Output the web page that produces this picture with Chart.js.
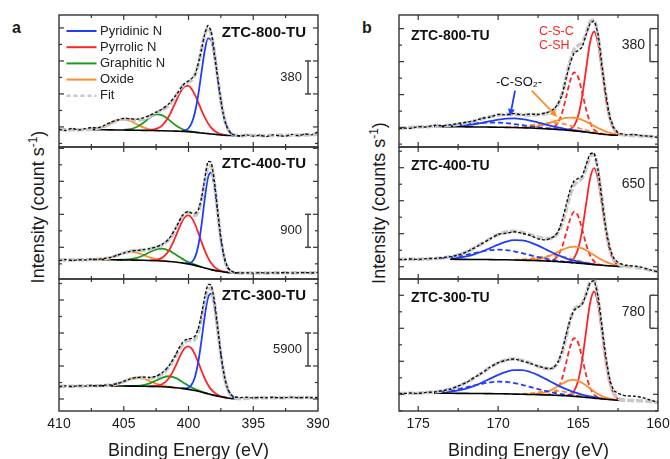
<!DOCTYPE html>
<html>
<head>
<meta charset="utf-8">
<script src="https://cdn.jsdelivr.net/npm/chart.js@4.4.1/dist/chart.umd.min.js"></script>
<style>
html,body{margin:0;padding:0;background:#fff;}
body{width:670px;height:459px;overflow:hidden;position:relative;font-family:"Liberation Sans",Arial,sans-serif;color:#1a1a1a;}
.cw{position:absolute;}
.ytitle{position:absolute;white-space:nowrap;font-size:18px;line-height:20px;transform:translate(-50%,-50%) rotate(-90deg);}
.ytitle sup{font-size:12px;vertical-align:7px;line-height:0;}
.plabel{position:absolute;font-weight:bold;font-size:16px;line-height:16px;}
</style>
</head>
<body>
<div class="plabel" style="left:12px;top:20px">a</div>
<div class="plabel" style="left:362px;top:20px">b</div>
<div class="ytitle" style="left:38px;top:207px">Intensity (count s<sup>-1</sup>)</div>
<div class="ytitle" style="left:379px;top:203px">Intensity (counts s<sup>-1</sup>)</div>
<div class="cw" style="left:55px;top:11px;width:267px;height:140px"><canvas id="a1"></canvas></div>
<div class="cw" style="left:55px;top:143px;width:267px;height:140px"><canvas id="a2"></canvas></div>
<div class="cw" style="left:39px;top:275px;width:299px;height:187px"><canvas id="a3"></canvas></div>
<div class="cw" style="left:395px;top:11px;width:267px;height:140px"><canvas id="b1"></canvas></div>
<div class="cw" style="left:395px;top:143px;width:267px;height:140px"><canvas id="b2"></canvas></div>
<div class="cw" style="left:379px;top:275px;width:299px;height:187px"><canvas id="b3"></canvas></div>
<script>
// ---------- energy grids (eV) ----------
const energyA = [410,409.5,409,408.5,408,407.5,407,406.5,406,405.5,405,404.5,404,403.5,403,402.5,402,401.5,401,400.75,400.5,400.25,400,399.75,399.5,399.25,399,398.75,398.5,398.25,398,397.75,397.5,397.25,397,396.75,396.5,396.25,396,395.5,395,394.5,394,393.5,393,392.5,392,391.5,391,390.5,390];
const energyB = [176.2,176,175.5,175,174.5,174,173.5,173,172.5,172,171.5,171,170.5,170,169.5,169,168.5,168,167.5,167,166.75,166.5,166.25,166,165.75,165.5,165.25,165,164.75,164.5,164.25,164,163.75,163.5,163.25,163,162.75,162.5,162.25,162,161.5,161,160.5,160];

// ---------- N 1s, ZTC-800-TU (counts s-1) ----------
const a1Data = [205,190,215,195,210,225,220,250,285,310,330,325,320,335,365,400,440,500,590,640,700,740,760,790,830,960,1120,1300,1400,1330,1080,800,540,330,220,160,140,130,125,140,125,135,120,140,130,125,145,130,150,140,175];
const a1Fit = [200,200,200,200,201,204,215,235,271,307,322,318,310,320,353,398,431,484,583,643,694,730,751,774,833,948,1120,1290,1371,1301,1088,805,537,340,222,164,141,133,130,132,133,133,133,133,134,134,135,136,138,142,150];
const a1Background = [200,200,198,197,196,195,194,193,192,190,189,187,185,183,182,180,178,176,173,170,166,162,158,154,150,146,142,138,135,133,132,131,130,130]; // from 407.5
const a1Pyridinic = [184,191,216,277,401,599,857,1105,1250,1228,1047,783,526,335,220,164,141,132]; // from 400.5
const a1Pyrrolic = [194,208,253,357,515,597,663,701,703,666,600,515,425,343,275,223,187,164,149,140,134]; // from 403
const a1Graphitic = [198,206,231,277,336,375,365,312,251,227,207,194,184,177,172,166]; // from 405
const a1Oxide = [204,215,235,271,306,319,300,262,226,203,193]; // from 407.5

// ---------- N 1s, ZTC-400-TU ----------
const a2Data = [500,530,505,525,520,540,530,560,590,650,705,760,775,800,830,875,950,1100,1380,1550,1720,1810,1840,1800,1790,1880,2200,2720,3200,3180,2650,1870,1120,610,340,225,185,172,165,170,160,175,160,170,165,175,160,170,175,165,180];
const a2Fit = [515,518,520,523,527,532,536,552,588,647,711,758,779,790,819,866,937,1081,1358,1529,1684,1784,1806,1766,1735,1829,2152,2648,3064,3084,2607,1835,1095,588,323,213,177,167,164,165,166,166,167,167,168,168,169,170,171,172,174];
const a2Background = [530,528,526,524,522,520,517,514,510,505,498,490,478,462,452,440,426,410,392,372,350,326,302,278,256,236,218,203,190,180,173,168,165,164]; // from 407.5
const a2Pyridinic = [430,427,460,588,901,1457,2170,2759,2905,2510,1787,1073,579,319,213,177,167]; // from 400.25
const a2Pyrrolic = [509,520,587,783,1152,1370,1568,1700,1737,1666,1500,1268,1016,780,583,435,333,266,225,199,184]; // from 403
const a2Graphitic = [524,527,540,576,642,730,805,826,772,668,611,556,506,462,424,391,360,331]; // from 405.5
const a2Oxide = [532,536,552,588,645,704,735,717,658,590,537,504,482]; // from 407.5

// ---------- N 1s, ZTC-300-TU ----------
const a3Data = [4350,4500,4380,4520,4450,4560,4480,4620,4650,4900,5300,5750,6000,6050,6000,6200,6900,8100,10000,11200,12100,12700,12900,13000,13400,14700,17200,20300,22600,22500,19700,15000,10200,6500,4200,3000,2550,2450,2400,2450,2350,2420,2380,2450,2350,2400,2450,2350,2420,2380,2400];
const a3Fit = [4400,4420,4440,4460,4490,4520,4520,4543,4636,4868,5255,5688,5967,5987,5914,6087,6692,7902,9793,10835,11752,12345,12543,12555,12844,14066,16487,19545,21842,21905,19245,14781,10080,6380,4075,2890,2400,2230,2210,2280,2320,2350,2370,2380,2390,2390,2400,2400,2400,2400,2400];
const a3Background = [4520,4510,4500,4490,4480,4470,4455,4440,4420,4400,4370,4330,4270,4170,4110,4040,3960,3870,3770,3650,3520,3380,3230,3080,2930,2790,2660,2540,2430,2330,2250,2190,2160,2150]; // from 407.5
const a3Pyridinic = [4050,4050,4200,4750,6100,8690,12540,16890,20200,20970,18760,14550,9980,6340,4060,2890,2390,2210,2150]; // from 400.5
const a3Pyrrolic = [4415,4470,4815,5890,8030,9330,10520,11340,11570,11150,10130,8740,7240,5840,4700,3855,3275,2890,2640,2470,2345]; // from 403
const a3Graphitic = [4475,4470,4505,4635,4950,5460,5985,6210,5915,5610,5250,4873,4515,4198,3915,3675,3464,3275,3100]; // from 405
const a3Oxide = [4520,4520,4543,4636,4865,5250,5673,5902,5772,5362,4897,4552,4342,4188]; // from 407.5

// ---------- S 2p, ZTC-800-TU ----------
const b1Data = [210,220,215,235,230,250,245,255,270,285,300,330,345,375,370,385,370,380,375,395,410,440,500,600,790,960,1080,1110,1150,1290,1420,1450,1300,930,590,340,220,165,150,140,145,130,125,110];
const b1Fit = [215,218,224,230,234,240,243,250,262,278,300,325,349,368,377,378,372,367,371,386,402,431,493,613,794,988,1121,1167,1199,1301,1440,1465,1275,927,577,334,210,159,142,136,132,128,122,115];
const b1Background = [236,235,234,233,232,231,230,229,228,226,224,221,218,214,210,207,204,201,198,194,190,186,182,177,172,166,160,154,149,144,140,137,135]; // from 174
const b1SO2Main = [237,239,243,250,262,278,297,315,327,330,322,305,282,258,246,235,225,216,207,200,193,187,180,174]; // from 173.5
const b1SO2Split = [239,241,245,252,260,269,277,281,281,274,264,251,239,227,217,211,208,204,200]; // from 174
const b1OxMain = [225,229,241,264,279,295,311,325,335,339,337,328,313,292,268,243,219,197,178,163,152,144,138,135]; // from 168.5
const b1OxSplit = [228,231,237,248,263,276,279,279,275,269,259,246,233,220,206,193,181,170,160,153,146,140]; // from 169.5
const b1CSCMain = [196,205,244,353,574,895,1204,1330,1192,872,541,311,195,150,137]; // from 165.75
const b1CSCSplit = [212,214,230,282,395,571,758,858,807,634,435,285,202,166,152,144]; // from 167

// ---------- S 2p, ZTC-400-TU ----------
const b2Data = [390,380,395,385,400,405,420,440,470,530,610,700,790,880,900,930,900,860,790,770,800,840,930,1150,1450,1750,1930,1980,2020,2250,2460,2480,2150,1550,980,600,400,330,290,270,255,230,180,140];
const b2Fit = [385,387,388,390,396,401,414,437,476,532,609,699,793,874,926,942,919,872,824,796,799,826,912,1086,1353,1647,1849,1924,1990,2175,2409,2450,2133,1559,980,582,378,300,265,250,235,210,175,145];
const b2Background = [388,387,386,385,384,382,380,378,375,371,366,361,355,351,347,342,337,331,325,319,312,305,298,291,284,277,270,264,258,253,248,245]; // from 173
const b2SO2Main = [403,418,444,485,541,608,677,735,766,762,723,658,581,542,504,469,437,408,383,362,343,327,313,301,290]; // from 173
const b2SO2Split = [407,422,445,474,509,542,567,577,569,545,509,468,430,398,384,371,360,349,340,331,323,315]; // from 173.5
const b2OxMain = [374,377,394,433,462,497,536,574,606,628,637,628,604,566,519,469,419,374,336,305,283,266,255,248]; // from 168.5
const b2OxSplit = [381,387,402,425,447,454,456,452,442,426,407,386,364,343,325,309,295,284,274]; // from 169
const b2CSCMain = [335,350,414,589,949,1472,1976,2184,1962,1444,908,535,348,273,250]; // from 165.75
const b2CSCSplit = [357,361,386,463,631,894,1173,1322,1245,987,691,468,348,295,275,266]; // from 167

// ---------- S 2p, ZTC-300-TU ----------
const b3Data = [420,410,425,415,440,450,480,515,590,670,790,900,1040,1140,1200,1230,1180,1130,1060,1010,1000,1040,1160,1420,1800,2150,2380,2450,2520,2750,3020,3080,2700,1980,1250,720,480,420,380,360,350,320,260,200];
const b3Fit = [415,416,418,420,436,451,476,520,584,672,782,906,1032,1137,1207,1227,1197,1130,1056,1002,1001,1033,1144,1378,1741,2136,2398,2482,2543,2760,3052,3098,2677,1927,1178,661,398,300,265,255,248,240,225,205];
const b3Background = [420,419,418,417,416,414,412,410,407,404,400,396,391,386,380,377,373,369,364,359,353,346,339,331,322,313,304,295,286,277,269,261,254,248]; // from 174
const b3SO2Main = [429,438,456,486,531,594,674,765,852,924,964,964,922,848,753,704,653,605,559,518,480,445,416,389,365,344,326,310,296]; // from 174
const b3SO2Split = [442,457,482,515,557,602,644,677,692,687,661,620,569,518,471,450,431,414,398,385,372,360,349]; // from 174
const b3OxMain = [396,407,447,484,532,588,645,695,727,734,713,667,603,532,463,402,353,316,290,272,259]; // from 168
const b3OxSplit = [405,416,441,470,480,482,478,464,445,422,398,375,354,336,321,308]; // from 168.5
const b3CSCMain = [365,386,472,707,1185,1879,2548,2824,2530,1843,1131,637,387,287,254]; // from 165.75
const b3CSCSplit = [382,391,427,535,767,1130,1514,1719,1617,1265,860,556,391,320,293,277]; // from 167

// ---------- labels ----------
const sampleNames = ['ZTC-800-TU','ZTC-400-TU','ZTC-300-TU'];
const scaleBarsA = [380, 900, 5900];
const scaleBarsB = [380, 650, 780];
const legendNames = ['Pyridinic N','Pyrrolic N','Graphitic N','Oxide','Fit'];

const BLUE = '#1f3dff', RED = '#ff2424', GREEN = '#1c9c1c', ORANGE = '#ff8d2e';
const FONT = '"Liberation Sans", Arial, sans-serif';
Chart.defaults.font.family = FONT;
Chart.defaults.color = '#1a1a1a';

function pts(grid, from, vals) {
  const i0 = grid.indexOf(from);
  return vals.map((v, i) => ({ x: grid[i0 + i], y: v }));
}
function lineDs(label, points, color, width, dash, mode) {
  return { label, data: points, borderColor: color, backgroundColor: color, borderWidth: width,
    borderDash: dash || [], pointRadius: 0, fill: false,
    cubicInterpolationMode: mode || 'monotone', tension: mode === 'default' ? 0.2 : 0.4 };
}

const decoPlugin = {
  id: 'deco',
  afterDraw(chart, args, o) {
    const { ctx, chartArea: ca } = chart;
    const x = chart.scales.x, y = chart.scales.y;
    const seg = (x1, y1, x2, y2) => { ctx.beginPath(); ctx.moveTo(x1, y1); ctx.lineTo(x2, y2); ctx.stroke(); };
    ctx.save();
    ctx.strokeStyle = '#333'; ctx.lineWidth = 1.2; ctx.setLineDash([]);
    for (let v = Math.ceil(x.min / 2.5) * 2.5; v <= x.max + 1e-6; v += 2.5) {
      const px = x.getPixelForValue(v);
      if (px <= ca.left + 1 || px >= ca.right - 1) continue;
      const L = Math.abs(v % 5) < 1e-6 ? 5 : 3;
      seg(px, ca.bottom, px, ca.bottom - L); seg(px, ca.top, px, ca.top + L);
    }
    for (let k = -12; k <= 12; k++) {
      const v = o.tick0 + k * o.tickStep / 2;
      if (v <= y.min || v >= y.max) continue;
      const py = y.getPixelForValue(v);
      const L = (k % 2 === 0) ? 5 : 3;
      seg(ca.left, py, ca.left + L, py); seg(ca.right, py, ca.right - L, py);
    }
    ctx.lineWidth = 1.4;
    ctx.strokeRect(ca.left, ca.top, ca.right - ca.left, ca.bottom - ca.top);
    ctx.fillStyle = '#111'; ctx.font = o.nameFont; ctx.textBaseline = 'middle';
    if (o.nameSide === 'right') { ctx.textAlign = 'right'; ctx.fillText(o.name, ca.right - o.nameDx, ca.top + o.nameDy); }
    else { ctx.textAlign = 'left'; ctx.fillText(o.name, ca.left + o.nameDx, ca.top + o.nameDy); }
    const bx = x.getPixelForValue(o.barE);
    const by0 = y.getPixelForValue(o.barY0), by1 = y.getPixelForValue(o.barY0 + o.barB);
    ctx.strokeStyle = '#444'; ctx.lineWidth = 1.5;
    seg(bx, by0, bx, by1);
    if (o.barStyle === 'I') { seg(bx - 3, by0, bx + 3, by0); seg(bx - 3, by1, bx + 3, by1); }
    else { seg(bx, by0, bx + 4, by0); seg(bx, by1, bx + 4, by1); }
    ctx.font = o.barFont; ctx.textAlign = 'right'; ctx.fillStyle = '#222';
    ctx.fillText(String(o.barB), bx - o.barGap, (by0 + by1) / 2);
    if (o.legend) {
      o.legend.forEach((it, i) => {
        const ds = chart.data.datasets.find(d => d.label === it.label);
        const cy = ca.top + 16 + i * 16.2;
        ctx.strokeStyle = ds.borderColor; ctx.lineWidth = it.width || 2; ctx.setLineDash(it.dash || []);
        seg(ca.left + 7.5, cy, ca.left + 37.5, cy);
        ctx.setLineDash([]);
        ctx.fillStyle = '#222'; ctx.font = '13px ' + FONT; ctx.textAlign = 'left';
        ctx.fillText(it.label, ca.left + 41, cy);
      });
    }
    (o.notes || []).forEach(n => {
      if (n.type === 'text') {
        ctx.fillStyle = n.color; ctx.font = n.font; ctx.textAlign = n.align; ctx.textBaseline = 'middle';
        ctx.fillText(n.text, x.getPixelForValue(n.e), y.getPixelForValue(n.v));
      } else {
        const x1 = x.getPixelForValue(n.e1), y1 = y.getPixelForValue(n.v1);
        const x2 = x.getPixelForValue(n.e2), y2 = y.getPixelForValue(n.v2);
        const ang = Math.atan2(y2 - y1, x2 - x1), hl = 7, hw = 3.5;
        const hx = x2 - hl * Math.cos(ang), hy = y2 - hl * Math.sin(ang);
        ctx.strokeStyle = n.color; ctx.fillStyle = n.color; ctx.lineWidth = 1.8;
        seg(x1, y1, hx, hy);
        ctx.beginPath(); ctx.moveTo(x2, y2);
        ctx.lineTo(hx + hw * Math.sin(ang), hy - hw * Math.cos(ang));
        ctx.lineTo(hx - hw * Math.sin(ang), hy + hw * Math.cos(ang));
        ctx.closePath(); ctx.fill();
      }
    });
    ctx.restore();
  }
};

function makePanel(id, p) {
  const datasets = [
    lineDs('Data', pts(p.grid, p.grid[0], p.data), '#111', 1.4, [3, 2], 'default'),
    lineDs('Fit', pts(p.grid, p.grid[0], p.fit), '#c8c8c8', 3.5, [7, 2]),
    lineDs('Background', pts(p.grid, p.bgFrom, p.bg), '#000', 1.6),
    ...p.comps.map(c => lineDs(c.label, pts(p.grid, c.from, c.vals), c.color, 1.8, c.dash))
  ];
  const bottom = !!p.xTitle;
  new Chart(document.getElementById(id), {
    type: 'line',
    data: { datasets },
    options: {
      responsive: true, maintainAspectRatio: false, animation: false, devicePixelRatio: 1, events: [],
      layout: { padding: bottom ? { left: 20, right: 20, top: 4, bottom: 0 } : 4 },
      plugins: { legend: { display: false }, tooltip: { enabled: false }, deco: p.deco },
      scales: {
        x: { type: 'linear', reverse: true, min: p.xMin, max: p.xMax, display: bottom,
          grid: { display: false, drawTicks: false }, border: { display: false },
          ticks: { stepSize: 5, includeBounds: false, autoSkip: false, maxRotation: 0, padding: 5, font: { size: 14 }, color: '#1a1a1a' },
          title: { display: bottom, text: p.xTitle || '', font: { size: 18 }, color: '#1a1a1a', padding: { top: 0, bottom: 0 } },
          afterFit: s => { if (bottom) s.height = 51; } },
        y: { type: 'linear', min: 0, max: p.yMax, display: false }
      }
    },
    plugins: [decoPlugin]
  });
}

function nComps(pyr, pyrr, gra, oxi, f) {
  return [
    { label: 'Pyridinic N', from: f[0], vals: pyr, color: BLUE },
    { label: 'Pyrrolic N', from: f[1], vals: pyrr, color: RED },
    { label: 'Graphitic N', from: f[2], vals: gra, color: GREEN },
    { label: 'Oxide', from: f[3], vals: oxi, color: ORANGE }
  ];
}
function sComps(s1, s2, o1, o2, c1, c2, f) {
  return [
    { label: 'C-SO2 2p3/2', from: f[0], vals: s1, color: BLUE },
    { label: 'C-SO2 2p1/2', from: f[1], vals: s2, color: BLUE, dash: [5, 3] },
    { label: 'Ox 2p3/2', from: f[2], vals: o1, color: ORANGE },
    { label: 'Ox 2p1/2', from: f[3], vals: o2, color: ORANGE, dash: [5, 3] },
    { label: 'C-S-C 2p3/2', from: f[4], vals: c1, color: RED },
    { label: 'C-S-C 2p1/2', from: f[5], vals: c2, color: RED, dash: [5, 3] }
  ];
}
function decoA(i, extra) {
  return Object.assign({ name: sampleNames[i], nameSide: 'right', nameDx: 12, nameDy: i === 0 ? 18 : 17,
    nameFont: 'bold 15px ' + FONT, barE: 390.77, barB: scaleBarsA[i], barStyle: 'I', barFont: '13px ' + FONT, barGap: 6 }, extra);
}
function decoB(i, extra) {
  return Object.assign({ name: sampleNames[i], nameSide: 'left', nameDx: 12, nameDy: i === 0 ? 21 : 19,
    nameFont: 'bold 14px ' + FONT, barE: 160.5, barB: scaleBarsB[i], barStyle: '[', barFont: '14px ' + FONT, barGap: 5 }, extra);
}

makePanel('a1', { grid: energyA, xMin: 390, xMax: 410, yMax: 1520, data: a1Data, fit: a1Fit, bg: a1Background, bgFrom: 407.5,
  comps: nComps(a1Pyridinic, a1Pyrrolic, a1Graphitic, a1Oxide, [400.5, 403, 405, 407.5]),
  deco: decoA(0, { barY0: 611, tick0: 611, tickStep: 380,
    legend: [{ label: legendNames[0] }, { label: legendNames[1] }, { label: legendNames[2] }, { label: legendNames[3] }, { label: legendNames[4], dash: [4, 3], width: 2.4 }] }) });
makePanel('a2', { grid: energyA, xMin: 390, xMax: 410, yMax: 3600, data: a2Data, fit: a2Fit, bg: a2Background, bgFrom: 407.5,
  comps: nComps(a2Pyridinic, a2Pyrrolic, a2Graphitic, a2Oxide, [400.25, 403, 405.5, 407.5]),
  deco: decoA(1, { barY0: 864, tick0: 864, tickStep: 900 }) });
makePanel('a3', { grid: energyA, xMin: 390, xMax: 410, yMax: 23600, data: a3Data, fit: a3Fit, bg: a3Background, bgFrom: 407.5,
  comps: nComps(a3Pyridinic, a3Pyrrolic, a3Graphitic, a3Oxide, [400.5, 403, 405, 407.5]),
  xTitle: 'Binding Energy (eV)',
  deco: decoA(2, { barY0: 8046, tick0: 8046, tickStep: 5900 }) });

makePanel('b1', { grid: energyB, xMin: 160, xMax: 176.2, yMax: 1520, data: b1Data, fit: b1Fit, bg: b1Background, bgFrom: 174,
  comps: sComps(b1SO2Main, b1SO2Split, b1OxMain, b1OxSplit, b1CSCMain, b1CSCSplit, [173.5, 174, 168.5, 169.5, 165.75, 167]),
  deco: decoB(0, { barY0: 983, tick0: 983, tickStep: 380, notes: [
    { type: 'text', text: '-C-SO\u2082-', e: 168.69, v: 749, color: '#111', font: '13px ' + FONT, align: 'center' },
    { type: 'arrow', e1: 168.94, v1: 650, e2: 169.25, v2: 357, color: BLUE },
    { type: 'arrow', e1: 167.9, v1: 650, e2: 166.31, v2: 346, color: ORANGE },
    { type: 'text', text: 'C-S-C', e: 167.44, v: 1325, color: RED, font: '12.5px ' + FONT, align: 'left' },
    { type: 'text', text: 'C-SH', e: 167.44, v: 1170, color: RED, font: '12.5px ' + FONT, align: 'left' }
  ] }) });
makePanel('b2', { grid: energyB, xMin: 160, xMax: 176.2, yMax: 2600, data: b2Data, fit: b2Fit, bg: b2Background, bgFrom: 173,
  comps: sComps(b2SO2Main, b2SO2Split, b2OxMain, b2OxSplit, b2CSCMain, b2CSCSplit, [173, 173.5, 168.5, 169, 165.75, 167]),
  deco: decoB(1, { barY0: 1542, tick0: 1542, tickStep: 650 }) });
makePanel('b3', { grid: energyB, xMin: 160, xMax: 176.2, yMax: 3120, data: b3Data, fit: b3Fit, bg: b3Background, bgFrom: 174,
  comps: sComps(b3SO2Main, b3SO2Split, b3OxMain, b3OxSplit, b3CSCMain, b3CSCSplit, [174, 174, 168, 168.5, 165.75, 167]),
  xTitle: 'Binding Energy (eV)',
  deco: decoB(2, { barY0: 1955, tick0: 1955, tickStep: 780 }) });
</script>
</body>
</html>
